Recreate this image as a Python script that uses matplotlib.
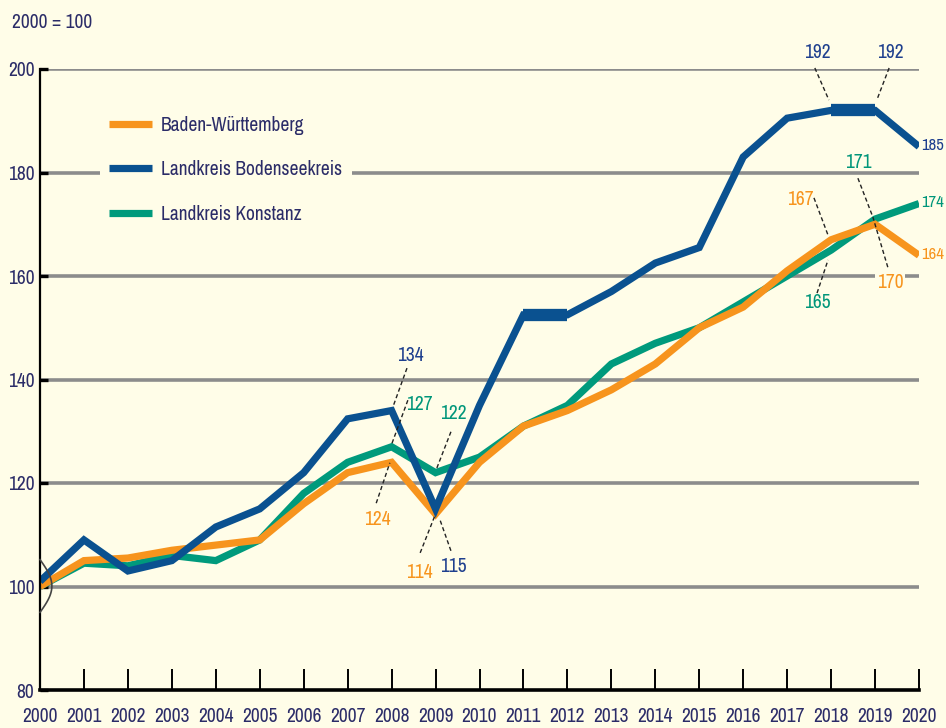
import numpy as np
import matplotlib
matplotlib.use("Agg")
import matplotlib.pyplot as plt
from matplotlib import font_manager as fm

# ---------------- data ----------------
years = list(range(2000, 2021))
series_names = ["Baden-Württemberg", "Landkreis Bodenseekreis", "Landkreis Konstanz"]
bw = [100, 105, 105.5, 107, 108, 109, 116, 122, 124, 114, 124, 131, 134, 138, 143, 150, 154, 161, 167, 170, 164]
bodensee = [101, 109, 103, 105, 111.5, 115, 122, 132.4, 134, 115, 135, 152.5, 152.5, 157, 162.5, 165.5, 183, 190.5, 192, 192, 185]
konstanz = [100, 104.5, 104, 106, 105, 109, 118, 124, 127, 122, 125, 131, 135, 143, 147, 150, 155, 160, 165, 171, 174]
yticks = [80, 100, 120, 140, 160, 180, 200]
index_note = "2000 = 100"

# annotations: (text, series, label_x, label_y, leader_start, leader_end)
annots = [
    ("134", "b", 2008.42, 144.7, (2008.35, 142.2), (2008.03, 134.7)),
    ("127", "g", 2008.62, 135.1, (2008.37, 136.0), (2008.01, 127.7)),
    ("124", "o", 2007.67, 112.9, (2007.65, 116.1), (2007.96, 123.9)),
    ("122", "g", 2009.40, 133.5, (2009.35, 129.9), (2009.03, 122.9)),
    ("114", "o", 2008.62, 102.8, (2008.65, 106.5), (2008.99, 113.8)),
    ("115", "b", 2009.40, 103.8, (2009.35, 106.9), (2009.10, 112.9)),
    ("192", "b", 2017.68, 203.1, (2017.63, 200.2), (2017.95, 194.0)),
    ("192", "b", 2019.34, 203.1, (2019.32, 200.2), (2019.04, 194.0)),
    ("171", "g", 2018.61, 182.0, (2018.61, 178.9), (2018.95, 171.4)),
    ("170", "o", 2019.34, 158.8, (2019.29, 161.7), (2018.95, 171.4)),
    ("167", "o", 2017.29, 174.7, (2017.61, 175.1), (2017.93, 167.9)),
    ("165", "g", 2017.68, 154.8, (2017.68, 156.7), (2017.93, 163.1)),
]

# ---------------- style ----------------
BG = "#fffde8"
C_O = "#f7941d"
C_B = "#0a5190"
C_G = "#009a7c"
T_B = "#1e3f8e"
T_G = "#00967a"
T_O = "#f7941d"
TXT = "#2b2c68"
GRID = "#8c8c8c"

ttf = fm.fontManager.ttflist
names = {f.name for f in ttf}
narrow = sorted(n for n in names if ("Narrow" in n or "Condensed" in n))
dv_cond = [f for f in ttf if f.name == "DejaVu Sans" and str(f.stretch) in ("condensed", "semi-condensed", "75", "87")]
FS = 14
if "Liberation Sans Narrow" in names:
    FONT, STRETCH = "Liberation Sans Narrow", "normal"
elif narrow:
    FONT, STRETCH = narrow[0], "normal"
elif dv_cond:
    FONT, STRETCH = "DejaVu Sans", "condensed"
    FS = 13
else:
    FONT, STRETCH = "Liberation Sans", "normal"
    FS = 12.5
plt.rcParams["font.family"] = [FONT, "DejaVu Sans"]
plt.rcParams["font.stretch"] = STRETCH

fig = plt.figure(figsize=(9.46, 7.28), dpi=100, facecolor=BG)
ax = fig.add_axes([40 / 946, 1 - 690 / 728, (919 - 40) / 946, (690 - 69) / 728])
ax.set_facecolor(BG)
ax.set_xlim(2000, 2020)
ax.set_ylim(80, 200)

# grid lines
for yv in yticks[1:]:
    ax.axhline(yv, color=GRID, lw=2.6, zorder=1, solid_capstyle="butt")

LW = 5.2
def draw(vals, color, z):
    ax.plot(years, vals, color=color, lw=LW, zorder=z, solid_joinstyle="miter",
            solid_capstyle="butt")
    for i in range(len(vals) - 1):
        if vals[i] == vals[i + 1]:
            ax.plot(years[i:i + 2], vals[i:i + 2], color=color, lw=LW * 1.7, zorder=z,
                    solid_capstyle="butt")

draw(konstanz, C_G, 3)
draw(bw, C_O, 4)
draw(bodensee, C_B, 5)

# spines and ticks
for s in ["top", "right"]:
    ax.spines[s].set_visible(False)
ax.spines["left"].set_linewidth(1.6)
ax.spines["bottom"].set_linewidth(2.6)
ax.spines["left"].set_zorder(6)
ax.spines["bottom"].set_zorder(6)

ax.set_yticks(yticks)
ax.set_yticklabels([str(v) for v in yticks])
ax.set_xticks(years)
ax.set_xticklabels([str(y) for y in years])
ax.tick_params(axis="y", direction="in", length=6, width=2.4, pad=4,
               labelsize=FS, labelcolor=TXT)
ax.tick_params(axis="x", direction="in", length=15, width=1.4, pad=12,
               labelsize=FS, labelcolor=TXT)

# axis-break bracket near 100
t = np.linspace(0, 1, 50)
bx = 2000 + 0.27 * np.sin(np.pi * t)
by = 105.2 - 10.2 * t
ax.plot(bx, by, color="#444444", lw=1.2, zorder=7, clip_on=False)

fig.text(12 / 946, 1 - 22 / 728, index_note, fontsize=FS, color=TXT, va="center", ha="left")

# legend
leg = ax.legend(
    [plt.Line2D([], [], color=c, lw=LW, solid_capstyle="butt") for c in (C_O, C_B, C_G)],
    series_names, loc="upper left", bbox_to_anchor=(0.068, 0.94),
    frameon=True, facecolor=BG, edgecolor="none", framealpha=1,
    fontsize=FS, handlelength=2.2, handletextpad=0.45, labelspacing=1.3,
    borderpad=0.5, borderaxespad=0, fancybox=False)
for tx in leg.get_texts():
    tx.set_color(TXT)
leg.set_zorder(8)

# annotations
cmap = {"b": T_B, "g": T_G, "o": T_O}
for text, s, lx, ly, p0, p1 in annots:
    kw = {}
    if text == "170":
        kw["bbox"] = dict(facecolor=BG, edgecolor="none", pad=1.5)
    ax.text(lx, ly, text, color=cmap[s], fontsize=FS, ha="center", va="center",
            zorder=9, clip_on=False, **kw)
    ax.plot([p0[0], p1[0]], [p0[1], p1[1]], color="#222222", lw=1.0,
            ls=(0, (3, 2)), zorder=8, clip_on=False)

# end labels
for val, col in ((bodensee[-1], T_B), (konstanz[-1], T_G), (bw[-1], T_O)):
    ax.text(2020.04, val + 0.2, f"{val:g}", color=col, fontsize=FS - 2, ha="left",
            va="center", clip_on=False)

fig.savefig("out.png", dpi=100, facecolor=BG)
